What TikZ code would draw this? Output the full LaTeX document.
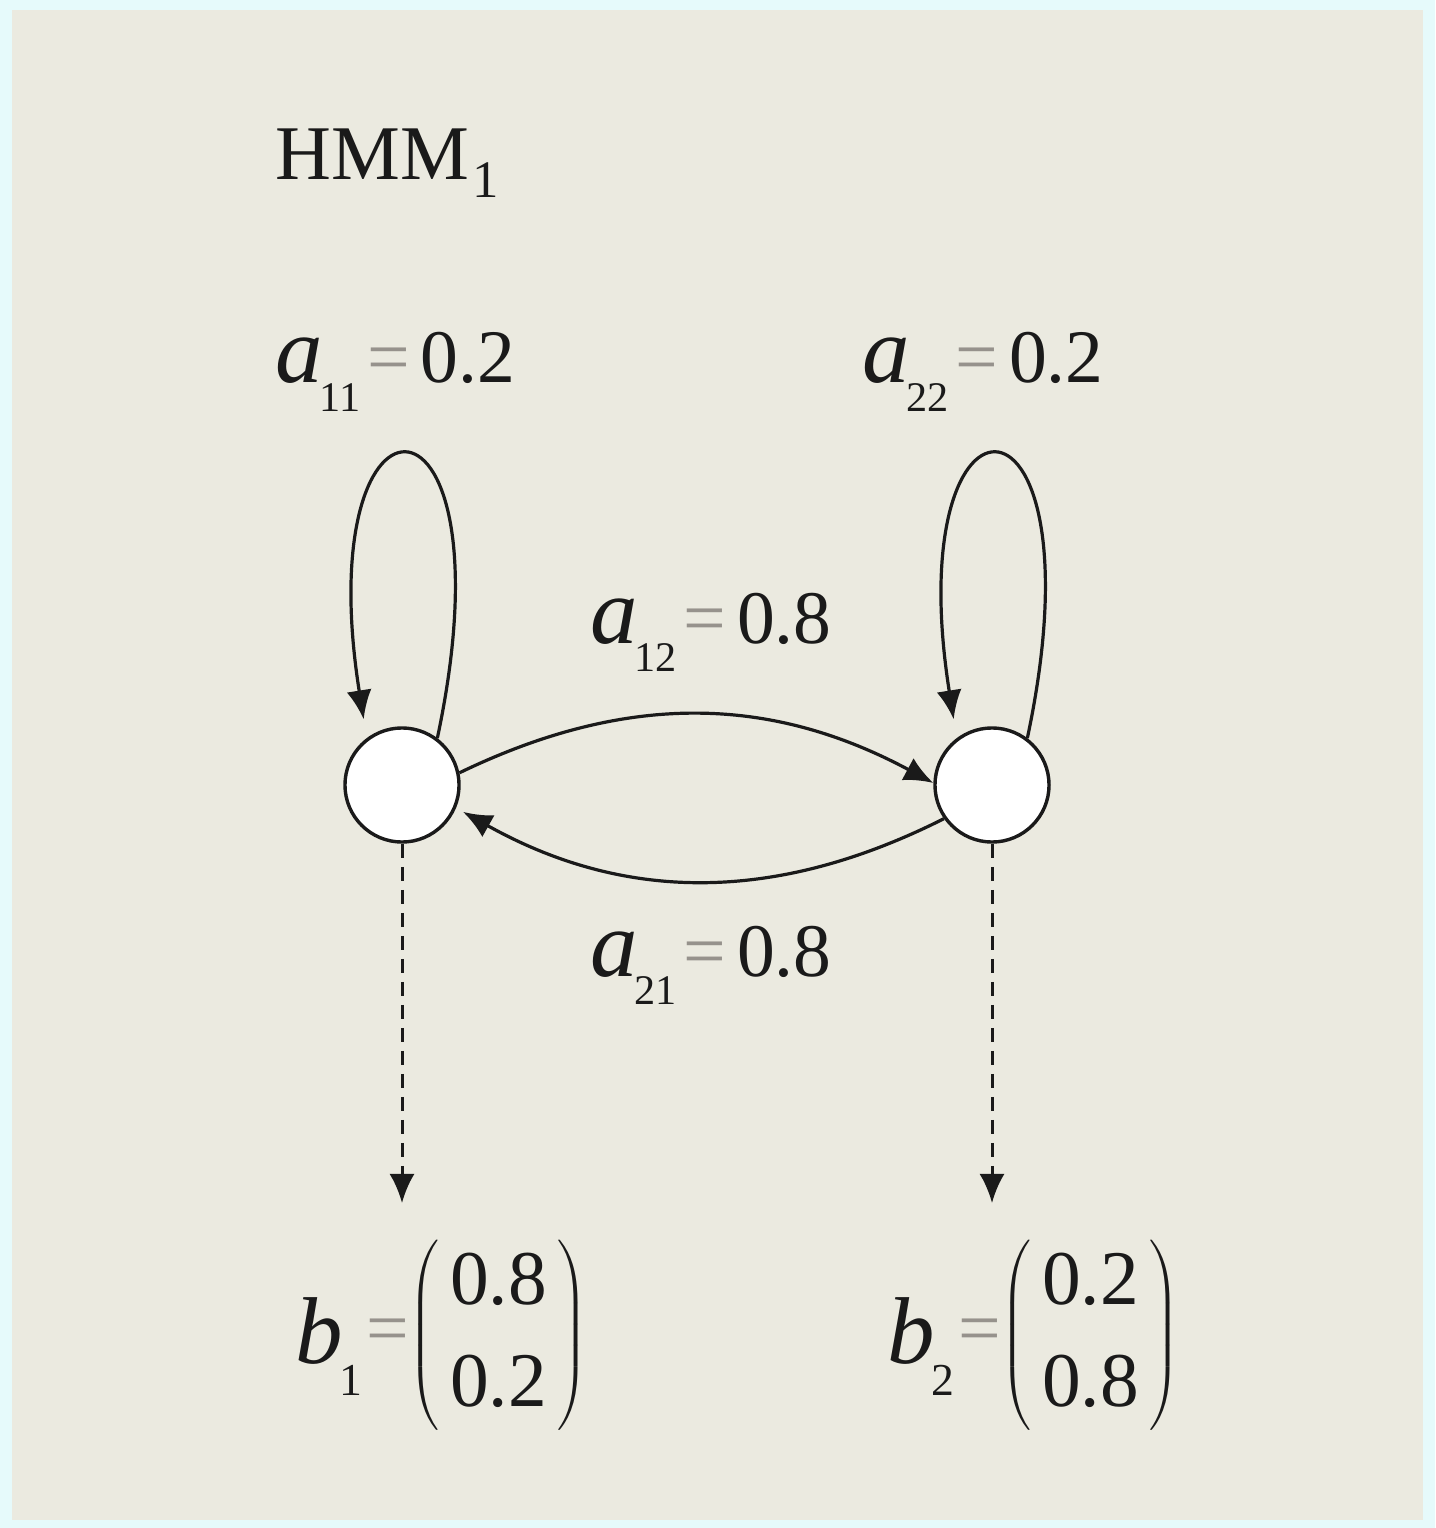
\documentclass[tikz,border=0pt]{standalone}
\usepackage{fontspec}
\setmainfont{Liberation Serif}
\usepackage{xcolor}
\usetikzlibrary{arrows.meta}
\definecolor{framecyan}{RGB}{230,250,251}
\definecolor{panelbeige}{RGB}{235,234,224}
\definecolor{eqgray}{RGB}{150,146,140}
\definecolor{inkblack}{RGB}{26,26,26}
\newcommand{\trans}[3]{{\fontsize{27}{27}\selectfont\itshape #1}\kern-1pt\raisebox{-8pt}{\fontsize{12}{12}\selectfont #2}\kern2pt\textcolor{eqgray}{=}\kern3pt#3}
\newcommand{\emis}[4]{\raisebox{-3pt}{\fontsize{27}{27}\selectfont\itshape #1}\kern-1pt\raisebox{-12pt}{\fontsize{13}{13}\selectfont #2}\kern1pt\textcolor{eqgray}{=}$\left(\kern3pt\hbox{\fontsize{22}{29}\selectfont\begin{tabular}{@{}c@{}}#3\\#4\end{tabular}}\kern3pt\right)$}

\begin{document}
\begin{tikzpicture}[x=0.01cm, y=-0.01cm, >={Latex[length=0.29cm, width=0.25cm]}, inkblack,
    state/.style={circle, draw=inkblack, fill=white, line width=0.034cm, minimum size=1.14cm, inner sep=0pt},
    edge/.style={->, line width=0.032cm},
    emit/.style={->, line width=0.03cm, dash pattern=on 0.14cm off 0.09cm},
    lbl/.style={inner sep=0pt, anchor=base west, font=\fontsize{21.5}{25}\selectfont}]
  \fill[framecyan] (0,0) rectangle (1435,1528);
  \fill[panelbeige] (12,10) rectangle (1423,1520);
  \node[lbl, font=\fontsize{22}{26}\selectfont] (title) at (275,180) {HMM\kern1pt\raisebox{-5pt}{\fontsize{15}{15}\selectfont 1}};
  % states
  \node[state] (s1) at (402,785) {};
  \node[state] (s2) at (992,785) {};
  \coordinate (o1) at (402,1203);
  \coordinate (o2) at (992,1203);
  % transitions
  \foreach \s in {s1, s2}
    \draw[edge, shorten >=0.19cm] (\s.53) .. controls +(78:3.8cm) and +(99:3.8cm) .. (\s.127);
  \draw[edge] (s1.12) to[bend left=27] (s2.178);
  \draw[edge, shorten >=0.08cm] (s2.215) to[bend left=28] (s1.-23);
  \draw[emit] (s1) -- (o1);
  \draw[emit] (s2) -- (o2);
  % labels
  \node[lbl] (a11) at (275,383) {\trans{a}{11}{0.2}};
  \node[lbl] (a22) at (862,383) {\trans{a}{22}{0.2}};
  \node[lbl] (a12) at (590,643) {\trans{a}{12}{0.8}};
  \node[lbl] (a21) at (590,976) {\trans{a}{21}{0.8}};
  \node[lbl, anchor=west] (b1) at (295,1335) {\emis{b}{1}{0.8}{0.2}};
  \node[lbl, anchor=west] (b2) at (887,1335) {\emis{b}{2}{0.2}{0.8}};
\end{tikzpicture}
\end{document}
